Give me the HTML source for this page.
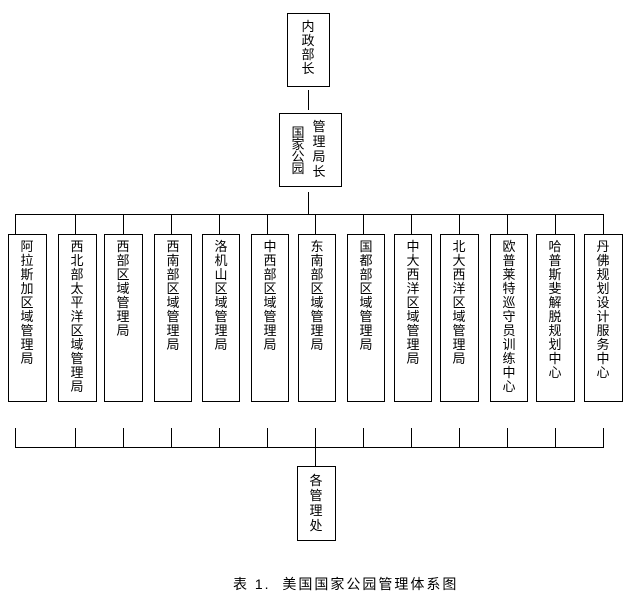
<!DOCTYPE html>
<html><head><meta charset="utf-8"><style>
body{margin:0;background:#fff;width:636px;height:598px;position:relative;overflow:hidden;font-family:"Liberation Sans","Noto Sans CJK SC","WenQuanYi Zen Hei",sans-serif;color:#000}
.b{position:absolute;border:1px solid #000;box-sizing:border-box}
.t{position:absolute;font-size:13px;line-height:14px;width:14px;text-align:center;word-break:break-all}
.l{position:absolute;background:#000}
</style></head><body>
<div class="b" style="left:287px;top:13px;width:43px;height:74px"></div>
<div class="t" style="left:301px;top:20px">内政部长</div>
<div class="l" style="left:308px;top:90px;width:1px;height:20px"></div>
<div class="b" style="left:279px;top:113px;width:63px;height:74px"></div>
<div class="t" style="left:291px;top:127px;line-height:12px">国家公园</div>
<div class="t" style="left:312px;top:119px;line-height:15px">管理局长</div>
<div class="l" style="left:308px;top:192px;width:1px;height:22px"></div>
<div class="l" style="left:15px;top:214px;width:589px;height:1px"></div>

<div class="l" style="left:15px;top:214px;width:1px;height:20px"></div>
<div class="l" style="left:75px;top:214px;width:1px;height:20px"></div>
<div class="l" style="left:123px;top:214px;width:1px;height:20px"></div>
<div class="l" style="left:171px;top:214px;width:1px;height:20px"></div>
<div class="l" style="left:219px;top:214px;width:1px;height:20px"></div>
<div class="l" style="left:267px;top:214px;width:1px;height:20px"></div>
<div class="l" style="left:315px;top:214px;width:1px;height:20px"></div>
<div class="l" style="left:363px;top:214px;width:1px;height:20px"></div>
<div class="l" style="left:411px;top:214px;width:1px;height:20px"></div>
<div class="l" style="left:459px;top:214px;width:1px;height:20px"></div>
<div class="l" style="left:507px;top:214px;width:1px;height:20px"></div>
<div class="l" style="left:555px;top:214px;width:1px;height:20px"></div>
<div class="l" style="left:603px;top:214px;width:1px;height:20px"></div>

<div class="b" style="left:8px;top:234px;width:39px;height:168px"></div><div class="t" style="left:20px;top:240px">阿拉斯加区域管理局</div>
<div class="b" style="left:58px;top:234px;width:39px;height:168px"></div><div class="t" style="left:70px;top:240px">西北部太平洋区域管理局</div>
<div class="b" style="left:104px;top:234px;width:39px;height:168px"></div><div class="t" style="left:116px;top:240px">西部区域管理局</div>
<div class="b" style="left:154px;top:234px;width:38px;height:168px"></div><div class="t" style="left:166px;top:240px">西南部区域管理局</div>
<div class="b" style="left:202px;top:234px;width:38px;height:168px"></div><div class="t" style="left:214px;top:240px">洛机山区域管理局</div>
<div class="b" style="left:251px;top:234px;width:38px;height:168px"></div><div class="t" style="left:263px;top:240px">中西部区域管理局</div>
<div class="b" style="left:298px;top:234px;width:38px;height:168px"></div><div class="t" style="left:310px;top:240px">东南部区域管理局</div>
<div class="b" style="left:347px;top:234px;width:38px;height:168px"></div><div class="t" style="left:359px;top:240px">国都部区域管理局</div>
<div class="b" style="left:394px;top:234px;width:38px;height:168px"></div><div class="t" style="left:406px;top:240px">中大西洋区域管理局</div>
<div class="b" style="left:440px;top:234px;width:39px;height:168px"></div><div class="t" style="left:452px;top:240px">北大西洋区域管理局</div>
<div class="b" style="left:490px;top:234px;width:38px;height:168px"></div><div class="t" style="left:502px;top:240px">欧普莱特巡守员训练中心</div>
<div class="b" style="left:536px;top:234px;width:39px;height:168px"></div><div class="t" style="left:548px;top:240px">哈普斯斐解脱规划中心</div>
<div class="b" style="left:584px;top:234px;width:39px;height:168px"></div><div class="t" style="left:596px;top:240px">丹佛规划设计服务中心</div>

<div class="l" style="left:15px;top:428px;width:1px;height:19px"></div>
<div class="l" style="left:75px;top:428px;width:1px;height:19px"></div>
<div class="l" style="left:123px;top:428px;width:1px;height:19px"></div>
<div class="l" style="left:171px;top:428px;width:1px;height:19px"></div>
<div class="l" style="left:219px;top:428px;width:1px;height:19px"></div>
<div class="l" style="left:267px;top:428px;width:1px;height:19px"></div>
<div class="l" style="left:315px;top:428px;width:1px;height:19px"></div>
<div class="l" style="left:363px;top:428px;width:1px;height:19px"></div>
<div class="l" style="left:411px;top:428px;width:1px;height:19px"></div>
<div class="l" style="left:459px;top:428px;width:1px;height:19px"></div>
<div class="l" style="left:507px;top:428px;width:1px;height:19px"></div>
<div class="l" style="left:555px;top:428px;width:1px;height:19px"></div>
<div class="l" style="left:603px;top:428px;width:1px;height:19px"></div>
<div class="l" style="left:15px;top:447px;width:589px;height:1px"></div>
<div class="l" style="left:315px;top:447px;width:1px;height:20px"></div>
<div class="b" style="left:297px;top:466px;width:39px;height:75px"></div>
<div class="t" style="left:309px;top:473px;line-height:15px">各管理处</div>
<div style="position:absolute;left:233px;top:575px;font-size:14px;line-height:18px;white-space:nowrap;letter-spacing:2px">表 1.&nbsp; 美国国家公园管理体系图</div>
</body></html>
